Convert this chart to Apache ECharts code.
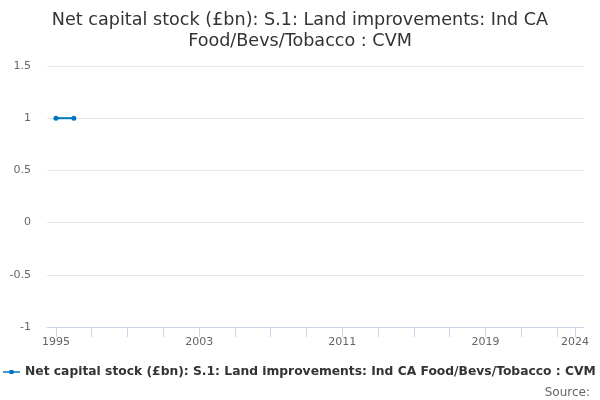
<!DOCTYPE html>
<html><head><meta charset="utf-8">
<script src="https://cdn.jsdelivr.net/npm/echarts@6/dist/echarts.min.js"></script>
<style>html,body{margin:0;padding:0;background:#fff}#c{width:600px;height:400px}</style>
</head><body><div id="c"></div>
<script>
const titleText = 'Net capital stock (£bn): S.1: Land improvements: Ind CA\nFood/Bevs/Tobacco : CVM';
const seriesName = 'Net capital stock (£bn): S.1: Land improvements: Ind CA Food/Bevs/Tobacco : CVM';
const years = [];
for (let y = 1995; y <= 2024; y++) years.push(String(y));
const values = [1, 1, null, null, null, null, null, null, null, null, null, null, null, null, null, null, null, null, null, null, null, null, null, null, null, null, null, null, null, null];
const yMin = -1, yMax = 1.5, yStep = 0.5;

const chart = echarts.init(document.getElementById('c'), null, {renderer: 'canvas'});
const last = years.length - 1;
chart.setOption({
  animation: false,
  textStyle: {fontFamily: 'DejaVu Sans'},
  title: {
    text: titleText, left: 'center', top: 5,
    textStyle: {fontSize: 17.6, fontWeight: 'normal', color: '#333', lineHeight: 21, fontFamily: 'DejaVu Sans'}
  },
  grid: {left: 47, right: 16, top: 66, bottom: 73, containLabel: false},
  xAxis: {
    type: 'category', data: years, boundaryGap: true,
    axisLine: {show: true, onZero: false, lineStyle: {color: '#ccd6eb'}},
    axisTick: {show: true, alignWithLabel: true, length: 10, lineStyle: {color: '#ccd6eb'},
      interval: (i) => i % 2 === 0 || i === last},
    axisLabel: {color: '#666', fontSize: 11, margin: 10,
      interval: (i) => i % 8 === 0 || i === last},
    splitLine: {show: false}
  },
  yAxis: {
    type: 'value', min: yMin, max: yMax, interval: yStep,
    axisLine: {show: false}, axisTick: {show: false},
    axisLabel: {color: '#666', fontSize: 11, margin: 16},
    splitLine: {lineStyle: {color: '#e6e6e6'}}
  },
  legend: {
    left: 3, top: 366, padding: 0, itemWidth: 17, itemHeight: 8, itemGap: 4,
    textStyle: {fontSize: 12.3, fontWeight: 'bold', color: '#333'},
    data: [{name: seriesName, icon: 'path://M0,3.3L6.5,3.3L6.5,2L10.5,2L10.5,3.3L17,3.3L17,4.7L10.5,4.7L10.5,6L6.5,6L6.5,4.7L0,4.7Z'}]
  },
  graphic: [{type: 'text', right: 10, top: 387, style: {text: 'Source:', fill: '#666', fontSize: 12, fontFamily: 'DejaVu Sans'}}],
  series: [{
    name: seriesName, type: 'line', data: values,
    color: '#0075c2', lineStyle: {width: 2}, symbol: 'circle', symbolSize: 5,
    connectNulls: false
  }]
});
</script></body></html>
